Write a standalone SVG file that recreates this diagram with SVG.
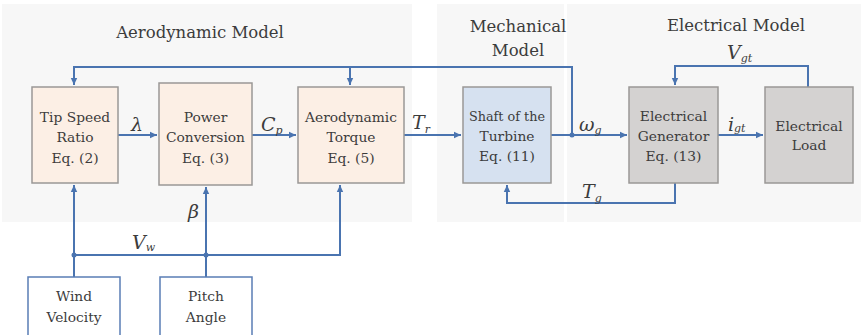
<svg xmlns="http://www.w3.org/2000/svg" width="863" height="335" viewBox="0 0 863 335">
<style>
.panel{fill:#f7f7f7;stroke:none}
.aero{fill:#fcefe5;stroke:#9a9896;stroke-width:1.5}
.shaft{fill:#d6e1f0;stroke:#9a9896;stroke-width:1.5}
.elec{fill:#d4d2d1;stroke:#9a9896;stroke-width:1.5}
.src{fill:#ffffff;stroke:#5a7db5;stroke-width:1.5}
.bt{font-family:'DejaVu Serif',serif;font-size:13.8px;fill:#3c3c3c;text-anchor:middle}
.tt{font-family:'DejaVu Serif',serif;font-size:16.5px;fill:#3c3c3c;text-anchor:middle}
.m{font-family:'DejaVu Serif',serif;font-size:19px;font-style:italic;fill:#3c3c3c}
.ms{font-size:11px}
.ln{fill:none;stroke:#4a74b0;stroke-width:2}
.dot{fill:#4a74b0}
</style>
<defs>
<marker id="ah" markerWidth="8" markerHeight="8" refX="7" refY="4" orient="auto" markerUnits="userSpaceOnUse">
<path d="M0,0.8 L7,4 L0,7.2 Z" fill="#4a74b0"/>
</marker>
</defs>
<rect width="863" height="335" fill="#ffffff"/>
<g id="panels">
<rect class="panel" x="2" y="4" width="410" height="218"/>
<rect class="panel" x="437" y="4" width="127" height="218"/>
<rect class="panel" x="567" y="4" width="294" height="218"/>
</g>
<g id="titles">
<text class="tt" x="200" y="38">Aerodynamic Model</text>
<text class="tt" x="518" y="32">Mechanical</text>
<text class="tt" x="518" y="56">Model</text>
<text class="tt" x="736" y="31">Electrical Model</text>
</g>
<g id="connectors">
<path class="ln" d="M118,135 H157" marker-end="url(#ah)"/>
<path class="ln" d="M252,135 H296" marker-end="url(#ah)"/>
<path class="ln" d="M404,135 H461" marker-end="url(#ah)"/>
<path class="ln" d="M551,135 H627" marker-end="url(#ah)"/>
<path class="ln" d="M718,135 H763" marker-end="url(#ah)"/>
<path class="ln" d="M572,135 V67 H74 V85" marker-end="url(#ah)"/>
<path class="ln" d="M350,67 V85" marker-end="url(#ah)"/>
<circle class="dot" cx="572" cy="135" r="2.5"/>
<path class="ln" d="M808,87 V66 H675 V85" marker-end="url(#ah)"/>
<path class="ln" d="M675,183 V203 H507 V185" marker-end="url(#ah)"/>
<path class="ln" d="M74,277 V185" marker-end="url(#ah)"/>
<path class="ln" d="M74,255 H340 V185" marker-end="url(#ah)"/>
<path class="ln" d="M206,277 V187" marker-end="url(#ah)"/>
<circle class="dot" cx="74" cy="255" r="2.5"/>
<circle class="dot" cx="206" cy="255" r="2.5"/>
<text class="m" x="131" y="131">λ</text>
<text class="m" x="261" y="131">C<tspan class="ms" dy="3">p</tspan></text>
<text class="m" x="412" y="129">T<tspan class="ms" dy="4">r</tspan></text>
<text class="m" x="579" y="131">ω<tspan class="ms" dy="3">g</tspan></text>
<text class="m" x="728" y="131">i<tspan class="ms" dy="1">gt</tspan></text>
<text class="m" x="727" y="59">V<tspan class="ms" dy="3">gt</tspan></text>
<text class="m" x="582" y="198">T<tspan class="ms" dy="4">g</tspan></text>
<text class="m" x="188" y="218">β</text>
<text class="m" x="132" y="249">V<tspan class="ms" dy="2">w</tspan></text>
</g>
<g id="tip-speed-ratio">
<rect class="aero" x="32" y="87" width="86" height="96"/>
<text class="bt" x="75" y="122">Tip Speed</text>
<text class="bt" x="75" y="142">Ratio</text>
<text class="bt" x="75" y="163">Eq. (2)</text>
</g>
<g id="power-conversion">
<rect class="aero" x="159" y="83" width="93" height="102"/>
<text class="bt" x="205.5" y="122">Power</text>
<text class="bt" x="205.5" y="142">Conversion</text>
<text class="bt" x="205.5" y="163">Eq. (3)</text>
</g>
<g id="aerodynamic-torque">
<rect class="aero" x="298" y="87" width="106" height="96"/>
<text class="bt" x="351" y="122">Aerodynamic</text>
<text class="bt" x="351" y="142">Torque</text>
<text class="bt" x="351" y="163">Eq. (5)</text>
</g>
<g id="shaft">
<rect class="shaft" x="463" y="87" width="88" height="96"/>
<text class="bt" x="507" y="121" style="font-size:12.8px">Shaft of the</text>
<text class="bt" x="507" y="141">Turbine</text>
<text class="bt" x="507" y="161">Eq. (11)</text>
</g>
<g id="electrical-generator">
<rect class="elec" x="629" y="87" width="89" height="96"/>
<text class="bt" x="673.5" y="121">Electrical</text>
<text class="bt" x="673.5" y="141">Generator</text>
<text class="bt" x="673.5" y="161">Eq. (13)</text>
</g>
<g id="electrical-load">
<rect class="elec" x="765" y="87" width="88" height="96"/>
<text class="bt" x="809" y="131">Electrical</text>
<text class="bt" x="809" y="150">Load</text>
</g>
<g id="wind-velocity">
<rect class="src" x="28" y="277" width="92" height="62"/>
<text class="bt" x="74" y="301">Wind</text>
<text class="bt" x="74" y="322">Velocity</text>
</g>
<g id="pitch-angle">
<rect class="src" x="160" y="277" width="92" height="62"/>
<text class="bt" x="206" y="301">Pitch</text>
<text class="bt" x="206" y="322">Angle</text>
</g>
</svg>
